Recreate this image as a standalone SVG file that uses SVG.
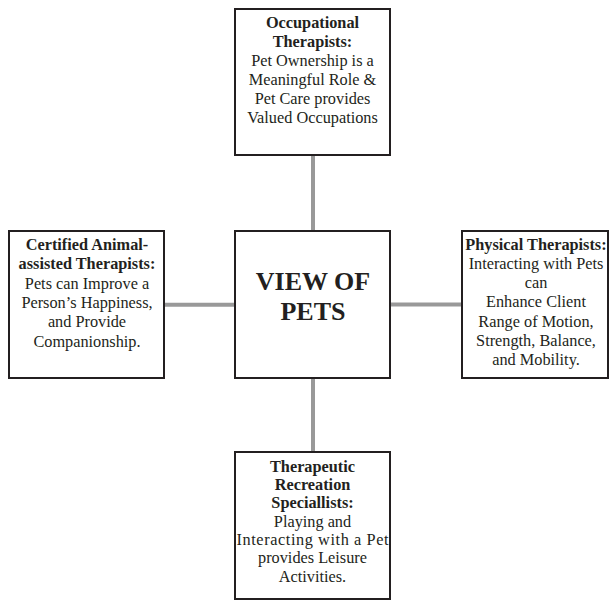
<svg xmlns="http://www.w3.org/2000/svg" width="612" height="600" viewBox="0 0 612 600">
<style>
.box{fill:#fff;stroke:#231f20;stroke-width:2}
.conn{stroke:#999;stroke-width:4;fill:none}
text{font-family:"Liberation Serif","Times New Roman",serif;font-size:16.3px;fill:#231f20;text-anchor:middle}
.b{font-weight:bold}
.big{font-weight:bold;font-size:26px}
</style>
<rect width="612" height="600" fill="#fff"/>
<g id="connectors">
<line class="conn" x1="313" y1="156" x2="313" y2="230"/>
<line class="conn" x1="313" y1="379" x2="313" y2="451"/>
<line class="conn" x1="165" y1="304.7" x2="234" y2="304.7"/>
<line class="conn" x1="391" y1="304.5" x2="461" y2="304.5"/>
</g>
<g id="occupational">
<rect class="box" x="235" y="9" width="155" height="146"/>
<text x="312.5" y="28" class="b">Occupational</text>
<text x="312.5" y="47" class="b">Therapists:</text>
<text x="312.5" y="66">Pet Ownership is a</text>
<text x="312.5" y="85">Meaningful Role &amp;</text>
<text x="312.5" y="104">Pet Care provides</text>
<text x="312.5" y="122.5">Valued Occupations</text>
</g>
<g id="center">
<rect class="box" x="235" y="231" width="155" height="147"/>
<text x="313" y="290" class="big">VIEW OF</text>
<text x="313" y="320" class="big">PETS</text>
</g>
<g id="animal-assisted">
<rect class="box" x="9" y="231" width="155" height="147"/>
<text x="87" y="250" class="b">Certified Animal-</text>
<text x="87" y="269.3" class="b">assisted Therapists:</text>
<text x="87" y="288.6">Pets can Improve a</text>
<text x="87" y="308">Person’s Happiness,</text>
<text x="87" y="327.3">and Provide</text>
<text x="87" y="346.6">Companionship.</text>
</g>
<g id="physical">
<rect class="box" x="462" y="231" width="146" height="147"/>
<text x="536" y="249.5" class="b">Physical Therapists:</text>
<text x="536" y="268.8">Interacting with Pets</text>
<text x="536" y="288">can</text>
<text x="536" y="307.3">Enhance Client</text>
<text x="536" y="326.5">Range of Motion,</text>
<text x="536" y="345.8">Strength, Balance,</text>
<text x="536" y="365">and Mobility.</text>
</g>
<g id="recreation">
<rect class="box" x="235" y="452" width="155" height="147"/>
<text x="312.5" y="471.7" class="b">Therapeutic</text>
<text x="312.5" y="490" class="b">Recreation</text>
<text x="312.5" y="508.4" class="b">Speciallists:</text>
<text x="312.5" y="526.7">Playing and</text>
<text x="312.5" y="545" textLength="152" lengthAdjust="spacing">Interacting with a Pet</text>
<text x="312.5" y="563.4">provides Leisure</text>
<text x="312.5" y="581.7">Activities.</text>
</g>
</svg>
